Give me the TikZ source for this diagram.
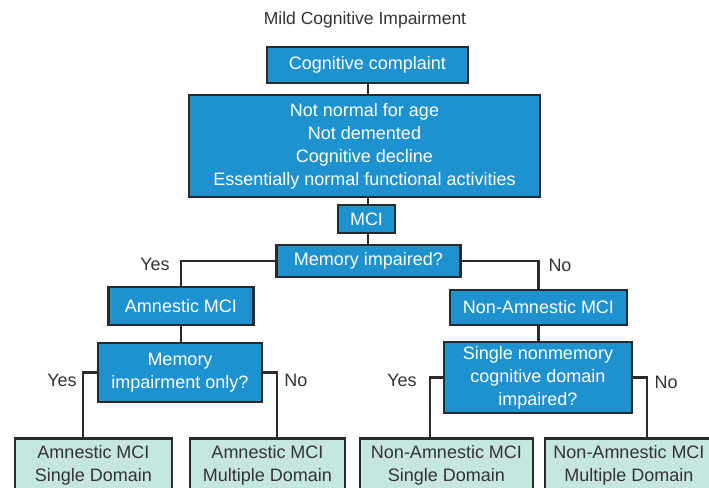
\documentclass[tikz,border=0pt]{standalone}
\usepackage{fontspec}
\setmainfont{Liberation Sans}
\definecolor{boxblue}{HTML}{1D92CF}
\definecolor{leafgreen}{HTML}{C5E6DF}
\definecolor{bord}{HTML}{2A2A2A}
\definecolor{txt}{HTML}{333333}
\tikzset{
  bluebox/.style={draw=bord, line width=2.5pt, fill=boxblue, text=white,
    font=\fontsize{18}{23}\selectfont, align=center, inner sep=0pt},
  leafbox/.style={draw=bord, line width=2.5pt, fill=leafgreen, text=txt,
    font=\fontsize{18}{23}\selectfont, align=center, inner sep=0pt,
    minimum height=55pt, anchor=north},
  conn/.style={draw=bord, line width=2.5pt},
  lbl/.style={text=txt, font=\fontsize{18}{22}\selectfont, inner sep=0pt},
  ttl/.style={text=txt, font=\fontsize{17.5}{21}\selectfont, inner sep=0pt}
}
\begin{document}
\begin{tikzpicture}[x=1pt,y=-1pt]
\useasboundingbox (0,0) rectangle (709,487);
\clip (0,0) rectangle (709,487);
\fill[white] (0,0) rectangle (709,487);

\node[ttl] (title) at (365,20) {Mild Cognitive Impairment};

\node[bluebox, minimum width=201pt, minimum height=36pt] (cc) at (367.5,65) {Cognitive complaint};
\node[bluebox, minimum width=351pt, minimum height=102pt] (big) at (364.5,146)
  {Not normal for age\\Not demented\\Cognitive decline\\Essentially normal functional activities};
\node[bluebox, minimum width=57pt, minimum height=28pt] (mci) at (366.5,219) {MCI};
\node[bluebox, minimum width=184pt, minimum height=32pt] (mem) at (368.5,261) {Memory impaired?};

\node[bluebox, minimum width=145pt, minimum height=38pt] (amn) at (181,306) {Amnestic MCI};
\node[bluebox, minimum width=164pt, minimum height=59pt] (memonly) at (180,372.5) {Memory\\impairment only?};

\node[bluebox, minimum width=177pt, minimum height=35pt] (non) at (538.5,307.5) {Non-Amnestic MCI};
\node[bluebox, minimum width=188pt, minimum height=71pt] (single) at (538,377.5)
  {Single nonmemory\\cognitive domain\\impaired?};

\node[leafbox, minimum width=157pt] (l1) at (93.5,437) {Amnestic MCI\\Single Domain};
\node[leafbox, minimum width=155pt] (l2) at (267.5,437) {Amnestic MCI\\Multiple Domain};
\node[leafbox, minimum width=173pt] (l3) at (446.5,437) {Non-Amnestic MCI\\Single Domain};
\node[leafbox, minimum width=168pt] (l4) at (629,437) {Non-Amnestic MCI\\Multiple Domain};

\draw[conn] (cc.south -| 368,0) -- (big.north -| 368,0);
\draw[conn] (big.south -| 368,0) -- (mci.north -| 368,0);
\draw[conn] (mci.south -| 368,0) -- (mem.north -| 368,0);
\draw[conn] (mem.west) -| (amn.north);
\draw[conn] (mem.east) -| (non.north);
\draw[conn] (amn.south) -- (memonly.north -| amn.south);
\draw[conn] (non.south) -- (single.north -| non.south);
\draw[conn] (memonly.west) -| ([xshift=-10.5pt]l1.north);
\draw[conn] (memonly.east) -| ([xshift=9.5pt]l2.north);
\draw[conn] (single.west) -| ([xshift=-16.5pt]l3.north);
\draw[conn] (single.east) -| ([xshift=18pt]l4.north);

\node[lbl] (y1) at (155,264) {Yes};
\node[lbl] (n1) at (560,265) {No};
\node[lbl] (y2) at (62,380) {Yes};
\node[lbl] (n2) at (296,380) {No};
\node[lbl] (y3) at (402,380) {Yes};
\node[lbl] (n3) at (666,382) {No};
\end{tikzpicture}
\end{document}
